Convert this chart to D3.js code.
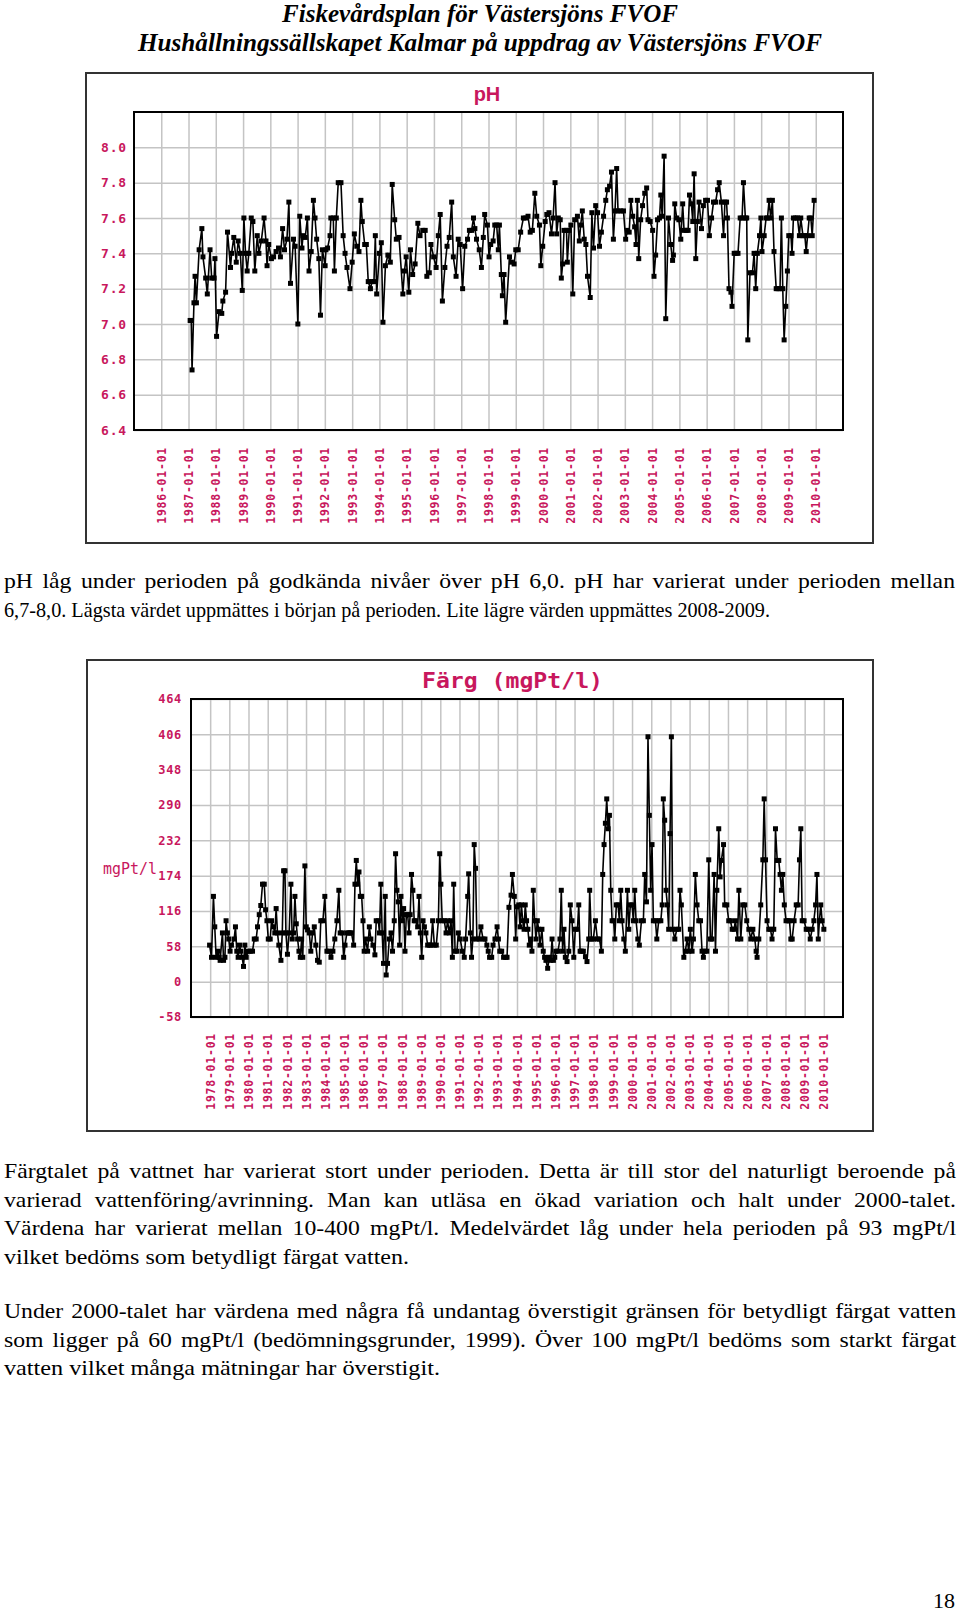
<!DOCTYPE html>
<html><head><meta charset="utf-8">
<script src="https://cdn.jsdelivr.net/npm/d3@7"></script>
<style>body{margin:0;background:#fff;}</style>
</head><body>
<svg id="page" width="960" height="1613"></svg>
<script>
// ---------- DATA ----------
const phYears = [1987.06,1987.10,1987.13,1987.20,1987.24,1987.29,1987.39,1987.49,1987.53,1987.63,1987.69,1987.79,1987.85,1987.94,1987.97,
1988.03,1988.12,1988.22,1988.26,1988.36,1988.43,1988.54,1988.58,1988.66,1988.75,1988.82,1988.90,1988.97,
1989.03,1989.09,1989.15,1989.21,1989.30,1989.36,1989.43,1989.52,1989.58,1989.67,1989.77,1989.84,1989.88,1989.94,
1990.04,1990.12,1990.21,1990.30,1990.37,1990.45,1990.52,1990.61,1990.68,1990.74,1990.85,1990.91,
1991.01,1991.08,1991.16,1991.20,1991.28,1991.36,1991.42,1991.50,1991.58,1991.64,1991.70,1991.78,1991.84,1991.91,
1992.01,1992.04,1992.10,1992.19,1992.22,1992.31,1992.35,1992.42,1992.49,1992.59,1992.67,1992.74,1992.81,1992.92,
1993.00,1993.08,1993.17,1993.25,1993.32,1993.37,1993.46,1993.52,1993.59,1993.67,1993.73,1993.80,1993.85,1993.90,
1994.00,1994.07,1994.13,1994.22,1994.31,1994.40,1994.47,1994.56,1994.62,1994.72,1994.86,1994.92,1994.98,
1995.08,1995.14,1995.22,1995.31,1995.41,1995.49,1995.59,1995.68,1995.74,1995.83,1995.89,1995.99,
1996.08,1996.16,1996.23,1996.31,1996.40,1996.48,1996.56,1996.65,1996.71,1996.81,1996.89,1996.96,
1997.05,1997.13,1997.23,1997.30,1997.38,1997.45,1997.50,1997.56,1997.66,1997.74,1997.81,1997.86,1997.96,
1998.02,1998.08,1998.17,1998.23,1998.30,1998.36,1998.40,1998.47,1998.51,1998.57,1998.63,1998.77,1998.84,1998.94,
1999.00,1999.09,1999.18,1999.28,1999.37,1999.45,1999.53,1999.61,1999.70,1999.77,1999.87,1999.92,1999.99,
2000.08,2000.14,2000.22,2000.31,2000.37,2000.44,2000.50,2000.56,2000.63,2000.67,2000.72,2000.77,2000.86,2000.89,2000.96,
2001.02,2001.09,2001.16,2001.26,2001.33,2001.38,2001.44,2001.51,2001.57,2001.63,2001.73,2001.79,2001.85,2001.93,
2002.00,2002.07,2002.14,2002.22,2002.30,2002.36,2002.44,2002.51,2002.58,2002.64,2002.70,2002.75,2002.85,2002.95,
2003.03,2003.10,2003.16,2003.22,2003.29,2003.36,2003.41,2003.46,2003.51,2003.58,2003.65,2003.73,2003.80,2003.85,2003.93,
2004.02,2004.07,2004.13,2004.20,2004.27,2004.32,2004.37,2004.44,2004.50,2004.60,2004.68,2004.75,2004.78,2004.83,2004.90,2004.98,
2005.05,2005.12,2005.17,2005.25,2005.32,2005.37,2005.44,2005.49,2005.54,2005.60,2005.66,2005.72,2005.81,2005.88,2005.96,
2006.03,2006.10,2006.18,2006.25,2006.33,2006.40,2006.46,2006.54,2006.62,2006.67,2006.73,2006.76,2006.82,2006.89,2006.93,
2007.01,2007.08,2007.15,2007.23,2007.30,2007.35,2007.42,2007.47,2007.51,2007.59,2007.68,2007.74,2007.80,2007.86,2007.94,2007.99,
2008.03,2008.11,2008.18,2008.23,2008.29,2008.35,2008.41,2008.47,2008.55,2008.62,2008.69,2008.74,2008.79,2008.84,2008.90,2008.96,
2009.01,2009.09,2009.13,2009.18,2009.26,2009.33,2009.40,2009.45,2009.53,2009.60,2009.65,2009.70,2009.76,2009.82,2009.87,2009.94];
const phValues = [7.02,7.02,6.74,7.12,7.27,7.12,7.42,7.54,7.38,7.26,7.17,7.42,7.26,7.26,7.37,
6.93,7.07,7.06,7.13,7.18,7.52,7.32,7.40,7.49,7.35,7.47,7.40,7.19,
7.60,7.40,7.30,7.40,7.60,7.58,7.30,7.50,7.40,7.47,7.60,7.47,7.33,7.45,
7.37,7.38,7.41,7.43,7.38,7.54,7.42,7.48,7.69,7.23,7.48,7.44,
7.00,7.61,7.43,7.50,7.49,7.60,7.30,7.41,7.70,7.60,7.48,7.37,7.05,7.42,
7.33,7.42,7.43,7.50,7.60,7.60,7.30,7.60,7.80,7.80,7.50,7.40,7.32,7.20,
7.35,7.51,7.44,7.41,7.70,7.58,7.45,7.45,7.24,7.20,7.24,7.24,7.50,7.17,
7.40,7.46,7.01,7.33,7.39,7.35,7.79,7.59,7.48,7.49,7.17,7.30,7.38,
7.18,7.42,7.28,7.34,7.57,7.50,7.53,7.53,7.27,7.29,7.45,7.38,
7.32,7.50,7.62,7.13,7.32,7.44,7.49,7.69,7.38,7.27,7.48,7.45,
7.20,7.44,7.48,7.53,7.53,7.60,7.54,7.48,7.42,7.32,7.49,7.62,7.56,
7.38,7.45,7.47,7.56,7.56,7.42,7.56,7.28,7.16,7.28,7.01,7.38,7.35,7.34,
7.42,7.42,7.52,7.60,7.60,7.61,7.52,7.53,7.74,7.61,7.56,7.33,7.44,
7.58,7.62,7.63,7.51,7.60,7.80,7.51,7.60,7.59,7.26,7.34,7.53,7.53,7.35,7.53,
7.56,7.17,7.59,7.61,7.47,7.56,7.64,7.48,7.45,7.27,7.15,7.63,7.43,7.67,
7.63,7.44,7.52,7.61,7.70,7.76,7.78,7.86,7.48,7.64,7.88,7.64,7.64,7.64,
7.48,7.53,7.52,7.70,7.61,7.55,7.45,7.70,7.37,7.59,7.67,7.74,7.77,7.59,7.58,
7.53,7.27,7.39,7.59,7.60,7.73,7.61,7.95,7.03,7.60,7.45,7.36,7.39,7.68,7.60,7.59,
7.48,7.68,7.53,7.53,7.53,7.73,7.68,7.58,7.85,7.37,7.58,7.69,7.54,7.67,7.70,
7.70,7.50,7.60,7.69,7.69,7.76,7.80,7.69,7.50,7.69,7.69,7.60,7.20,7.18,7.10,
7.40,7.40,7.40,7.60,7.60,7.80,7.60,7.60,6.91,7.29,7.29,7.40,7.20,7.40,7.50,7.60,
7.41,7.50,7.60,7.60,7.70,7.60,7.70,7.41,7.20,7.20,7.20,7.60,7.20,6.91,7.10,7.30,
7.50,7.50,7.40,7.60,7.60,7.60,7.50,7.60,7.50,7.50,7.41,7.50,7.60,7.60,7.50,7.70];

const colorYears = [1977.97,1978.07,1978.17,1978.24,1978.31,1978.42,1978.47,1978.52,1978.64,1978.70,1978.77,1978.83,1978.90,1978.97,
1979.04,1979.11,1979.25,1979.32,1979.39,1979.46,1979.53,1979.60,1979.67,1979.74,1979.81,1979.88,1979.98,
1980.09,1980.21,1980.30,1980.40,1980.47,1980.56,1980.64,1980.73,1980.82,1980.89,1980.96,
1981.03,1981.13,1981.20,1981.30,1981.37,1981.44,1981.51,1981.58,1981.69,1981.76,1981.83,1981.90,1981.95,
1982.03,1982.12,1982.21,1982.28,1982.35,1982.42,1982.49,1982.56,1982.63,1982.70,1982.77,1982.83,1982.94,
1983.01,1983.08,1983.17,1983.25,1983.34,1983.43,1983.51,1983.60,1983.69,1983.77,1983.88,1983.98,
1984.09,1984.19,1984.30,1984.40,1984.50,1984.61,1984.71,1984.78,1984.89,1984.96,
1985.03,1985.13,1985.23,1985.30,1985.37,1985.48,1985.55,1985.62,1985.69,1985.76,1985.83,1985.90,1985.97,
1986.03,1986.10,1986.21,1986.30,1986.38,1986.49,1986.59,1986.66,1986.77,1986.83,1986.90,1986.97,
1987.04,1987.13,1987.18,1987.25,1987.34,1987.43,1987.51,1987.60,1987.67,1987.74,1987.81,1987.88,1987.95,
1988.02,1988.09,1988.16,1988.23,1988.30,1988.37,1988.43,1988.50,1988.57,1988.64,1988.71,1988.82,1988.89,1988.96,
1989.03,1989.10,1989.17,1989.25,1989.34,1989.44,1989.51,1989.60,1989.69,1989.79,1989.90,1989.97,
1990.03,1990.10,1990.21,1990.30,1990.38,1990.47,1990.56,1990.63,1990.70,1990.77,1990.87,1990.94,
1991.04,1991.15,1991.25,1991.32,1991.43,1991.48,1991.57,1991.63,1991.70,1991.77,1991.84,1991.91,
1992.02,1992.12,1992.23,1992.33,1992.43,1992.50,1992.57,1992.68,1992.75,1992.85,1992.96,
1993.03,1993.10,1993.20,1993.30,1993.41,1993.48,1993.58,1993.69,1993.76,1993.86,1993.93,
1994.00,1994.09,1994.16,1994.23,1994.30,1994.37,1994.43,1994.50,1994.57,1994.64,1994.71,1994.78,1994.85,1994.92,1994.99,
1995.06,1995.13,1995.20,1995.30,1995.37,1995.44,1995.51,1995.60,1995.69,1995.76,1995.83,1995.90,1995.97,
1996.03,1996.14,1996.24,1996.31,1996.38,1996.45,1996.52,1996.61,1996.70,1996.78,1996.87,1996.96,
1997.04,1997.15,1997.22,1997.29,1997.36,1997.46,1997.57,1997.65,1997.74,1997.79,1997.88,1997.98,
1998.09,1998.19,1998.30,1998.40,1998.47,1998.54,1998.61,1998.68,1998.75,1998.82,1998.89,1998.96,
1999.04,1999.10,1999.18,1999.27,1999.34,1999.41,1999.48,1999.57,1999.65,1999.76,1999.83,1999.91,
2000.00,2000.07,2000.14,2000.21,2000.30,2000.38,2000.49,2000.59,2000.66,2000.75,2000.83,2000.90,2000.97,
2001.04,2001.11,2001.22,2001.29,2001.39,2001.50,2001.57,2001.63,2001.70,2001.77,2001.84,2001.91,2001.98,
2002.05,2002.12,2002.23,2002.33,2002.43,2002.50,2002.57,2002.70,2002.78,2002.87,2002.96,
2003.04,2003.13,2003.20,2003.30,2003.39,2003.48,2003.57,2003.65,2003.72,2003.79,2003.90,
2004.00,2004.09,2004.17,2004.28,2004.35,2004.42,2004.52,2004.59,2004.66,2004.77,2004.83,2004.94,
2005.04,2005.13,2005.22,2005.32,2005.39,2005.50,2005.57,2005.67,2005.77,2005.88,2005.98,
2006.09,2006.19,2006.30,2006.40,2006.47,2006.52,2006.61,2006.71,2006.82,2006.89,2006.96,
2007.04,2007.13,2007.22,2007.30,2007.39,2007.48,2007.57,2007.65,2007.72,2007.79,2007.86,2007.94,
2008.03,2008.14,2008.21,2008.28,2008.35,2008.45,2008.56,2008.66,2008.73,2008.80,2008.87,2008.97,
2009.08,2009.18,2009.29,2009.39,2009.48,2009.57,2009.64,2009.71,2009.77,2009.84,2009.91,2010.00];
const colorValues = [60,40,140,90,40,50,40,35,80,35,40,100,80,70,
50,60,70,90,50,40,60,50,40,25,60,40,50,
50,50,70,70,90,110,125,160,160,118,100,
70,70,100,90,80,120,80,60,35,80,182,182,80,
45,80,160,70,80,140,95,70,50,40,70,40,190,
90,85,80,50,80,90,60,35,32,100,100,140,
50,50,40,50,70,100,150,80,80,40,
60,80,80,80,80,60,160,199,160,180,140,140,100,
50,70,50,90,70,60,44,100,100,80,160,80,
30,140,11,30,70,80,50,100,210,150,131,60,140,
100,120,50,110,110,80,110,176,150,100,100,90,140,80,
40,100,90,80,60,60,60,100,60,60,100,210,
160,100,100,80,100,80,100,40,160,50,50,80,
70,50,40,70,140,177,80,40,70,225,186,70,
70,90,70,70,60,50,40,40,60,70,90,
70,50,50,40,40,40,122,142,176,140,70,
123,126,90,126,100,86,126,100,86,60,70,50,150,100,70,
100,86,60,86,50,40,35,22,40,35,70,35,40,
50,50,70,150,50,86,40,33,50,126,100,40,
86,86,126,50,50,50,41,33,70,150,70,70,
100,70,70,50,176,225,260,300,251,273,150,100,
100,70,126,126,100,150,100,70,50,150,86,126,
126,100,150,100,70,60,100,100,176,131,402,273,150,
225,100,100,70,100,100,126,300,265,150,126,86,243,
402,86,70,86,86,150,126,40,50,70,50,
86,50,70,176,126,100,100,50,40,50,50,
200,70,70,176,50,150,251,172,199,225,126,126,
100,100,86,86,100,70,150,70,126,126,100,
86,70,86,70,50,40,70,126,200,300,200,
100,86,86,70,86,251,199,199,176,150,176,126,
100,100,100,70,70,100,126,126,200,251,100,100,
86,86,70,86,100,126,176,70,100,126,100,86];

const phTicks = [6.4,6.6,6.8,7.0,7.2,7.4,7.6,7.8,8.0];
const colorTicks = [-58,0,58,116,174,232,290,348,406,464];
const phYearTicks = d3.range(1986, 2011);
const colorYearTicks = d3.range(1978, 2011);

const headerLines = ["Fiskevårdsplan för Västersjöns FVOF", "Hushållningssällskapet Kalmar på uppdrag av Västersjöns FVOF"];
const bodyLines = [
 ["pH låg under perioden på godkända nivåer över pH 6,0. pH har varierat under perioden mellan", true],
 ["6,7-8,0. Lägsta värdet uppmättes i början på perioden. Lite lägre värden uppmättes 2008-2009.", false],
 ["Färgtalet på vattnet har varierat stort under perioden. Detta är till stor del naturligt beroende på", true],
 ["varierad vattenföring/avrinning. Man kan utläsa en ökad variation och halt under 2000-talet.", true],
 ["Värdena har varierat mellan 10-400 mgPt/l. Medelvärdet låg under hela perioden på 93 mgPt/l", true],
 ["vilket bedöms som betydligt färgat vatten.", false],
 ["Under 2000-talet har värdena med några få undantag överstigit gränsen för betydligt färgat vatten", true],
 ["som ligger på 60 mgPt/l (bedömningsgrunder, 1999). Över 100 mgPt/l bedöms som starkt färgat", true],
 ["vatten vilket många mätningar har överstigit.", false]
];

// ---------- DRAW ----------
const svg = d3.select("#page");
svg.append("rect").attr("width",960).attr("height",1613).attr("fill","#fff");
const MAG = "#c8175d";
const MONO = "'DejaVu Sans Mono', monospace";
const SERIF = "'Liberation Serif', 'Times New Roman', serif";

function toDate(y){
  const yr = Math.floor(y);
  const a = new Date(yr,0,1), b = new Date(yr+1,0,1);
  return new Date(+a + (y-yr)*(b-a));
}

// header
const hdr = svg.append("g").attr("font-family",SERIF)
  .attr("font-weight","bold").attr("font-style","italic").attr("font-size",26).attr("fill","#000");
[[headerLines[0],22,396],[headerLines[1],51,684]].forEach(([t,y,w])=>{
  hdr.append("text").attr("x",480).attr("y",y).attr("text-anchor","middle")
    .attr("textLength",w).attr("lengthAdjust","spacingAndGlyphs").text(t);
});

function drawChart(c){
  const g = svg.append("g");
  g.append("rect").attr("x",c.ox).attr("y",c.oy).attr("width",c.ow).attr("height",c.oh)
    .attr("fill","#fff").attr("stroke","#333").attr("stroke-width",2);
  const x = d3.scaleTime().domain([toDate(c.x0), toDate(c.x1)]).range([c.px, c.px+c.pw]);
  const y = d3.scaleLinear().domain(c.yd).range([c.py+c.ph, c.py]);
  const yearDates = c.yearTicks.map(v=>new Date(v,0,1));
  g.append("g").attr("transform",`translate(0,${c.py+c.ph})`)
    .call(d3.axisBottom(x).tickValues(yearDates).tickSize(-c.ph).tickFormat(""))
    .call(s=>s.select(".domain").remove())
    .call(s=>s.selectAll("line").attr("stroke","#c4c4c4").attr("stroke-width",1.5));
  g.append("g").attr("transform",`translate(${c.px},0)`)
    .call(d3.axisLeft(y).tickValues(c.yTicks).tickSize(-c.pw).tickFormat(""))
    .call(s=>s.select(".domain").remove())
    .call(s=>s.selectAll("line").attr("stroke","#c4c4c4").attr("stroke-width",1.5));
  const pts = c.xs.map((v,i)=>({d:toDate(v), v:c.vs[i]}));
  g.append("path").datum(pts).attr("fill","none").attr("stroke","#000").attr("stroke-width",1.6)
    .attr("d", d3.line().x(p=>x(p.d)).y(p=>y(p.v)));
  g.append("g").selectAll("rect").data(pts).join("rect")
    .attr("x",p=>x(p.d)-2.5).attr("y",p=>y(p.v)-2.5).attr("width",5).attr("height",5).attr("fill","#000");
  g.append("rect").attr("x",c.px).attr("y",c.py).attr("width",c.pw).attr("height",c.ph)
    .attr("fill","none").attr("stroke","#000").attr("stroke-width",2);
  g.append("g").attr("transform",`translate(${c.px},0)`)
    .call(d3.axisLeft(y).tickValues(c.yTicks).tickSize(0).tickPadding(c.ypad).tickFormat(c.yfmt))
    .call(s=>s.select(".domain").remove())
    .call(s=>s.selectAll("text").attr("fill",MAG).attr("font-family",MONO).attr("font-weight","bold")
      .attr("font-size",c.yfs).attr("letter-spacing",c.yls));
  g.append("g").attr("transform",`translate(0,${c.py+c.ph})`)
    .call(d3.axisBottom(x).tickValues(yearDates).tickSize(0).tickFormat(d3.timeFormat("%Y-%m-%d")))
    .call(s=>s.select(".domain").remove())
    .call(s=>s.selectAll("text").attr("fill",MAG).attr("font-family",MONO).attr("font-weight","bold")
      .attr("font-size",11.5).attr("letter-spacing",0.75)
      .attr("transform","rotate(-90)").attr("text-anchor","end")
      .attr("x",-c.xgap).attr("y",0).attr("dy","0.36em"));
  return g;
}

const g1 = drawChart({ox:86,oy:73,ow:787,oh:470, px:134,py:112,pw:709,ph:318,
  x0:1985,x1:2011, yd:[6.4,8.2], yTicks:phTicks, yearTicks:phYearTicks,
  xs:phYears, vs:phValues, ypad:7, yfmt:d3.format(".1f"), yfs:13, yls:0.8, xgap:17});
g1.append("text").attr("x",487).attr("y",101).attr("text-anchor","middle")
  .attr("font-family","'Liberation Sans', Arial, sans-serif").attr("font-weight","bold")
  .attr("font-size",20).attr("fill",MAG).text("pH");

const g2 = drawChart({ox:87,oy:660,ow:786,oh:471, px:191,py:699,pw:652,ph:318,
  x0:1977,x1:2011, yd:[-58,464], yTicks:colorTicks, yearTicks:colorYearTicks,
  xs:colorYears, vs:colorValues, ypad:9, yfmt:d=>String(d), yfs:12, yls:0.7, xgap:16});
g2.append("text").attr("x",512.5).attr("y",688).attr("text-anchor","middle")
  .attr("font-family",MONO).attr("font-weight","bold").attr("font-size",21).attr("fill",MAG)
  .attr("textLength",181).attr("lengthAdjust","spacingAndGlyphs").text("Färg (mgPt/l)");
g2.append("text").attr("x",103).attr("y",874)
  .attr("font-family",MONO).attr("font-size",15).attr("fill",MAG)
  .attr("textLength",54).attr("lengthAdjust","spacingAndGlyphs").text("mgPt/l");

// body text
const bodyY = [588,617,1178,1207,1235,1264,1318,1347,1375];
const bodyW = [951,766,952,952,952,405,952,952,436];
const SX = 1.13;
const body = svg.append("g").attr("font-family",SERIF).attr("font-size",21).attr("fill","#000");
function layoutBody(){
  body.selectAll("*").remove();
  bodyLines.forEach(([t,just],i)=>{
    const gg = body.append("g").attr("transform",`translate(4,${bodyY[i]}) scale(${SX},1)`);
    const tx = gg.append("text").attr("x",0).attr("y",0).text(t);
    const nat = tx.node().getComputedTextLength();
    const target = bodyW[i]/SX;
    const spaces = (t.match(/ /g)||[]).length;
    if (just && nat < target){
      tx.attr("word-spacing", (target-nat)/spaces);
    } else {
      tx.attr("textLength", target).attr("lengthAdjust","spacingAndGlyphs");
    }
  });
}
layoutBody();
if (document.fonts && document.fonts.ready) document.fonts.ready.then(layoutBody);

svg.append("text").attr("x",955).attr("y",1608).attr("text-anchor","end")
  .attr("font-family",SERIF).attr("font-size",22).text("18");
</script>
</body></html>
